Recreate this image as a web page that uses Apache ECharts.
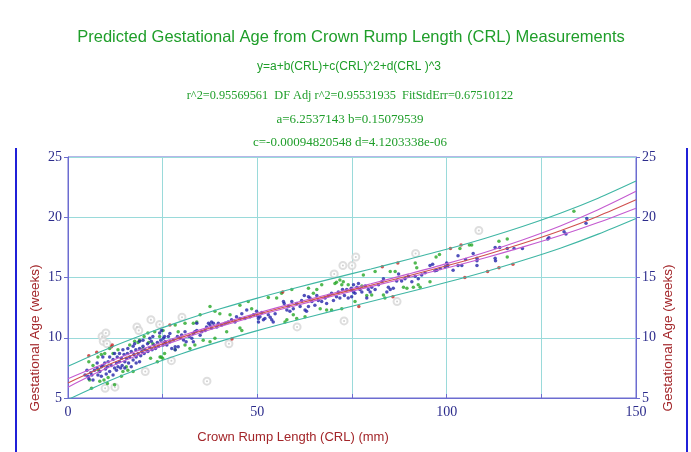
<!DOCTYPE html>
<html>
<head>
<meta charset="utf-8">
<script src="https://cdn.jsdelivr.net/npm/echarts@6/dist/echarts.min.js"></script>
<style>
  html, body { margin: 0; padding: 0; background: #fff; }
  #chart { width: 691px; height: 452px; }
</style>
</head>
<body>
<div id="chart"></div>
<script>
// fitted curves at CRL = 0, 10, ... 150
const curveCRL  = [0, 10, 20, 30, 40, 50, 60, 70, 80, 90, 100, 110, 120, 130, 140, 150];
const fitGA     = [6.25, 7.67, 8.92, 10.03, 11.03, 11.94, 12.78, 13.58, 14.36, 15.15, 15.97, 16.85, 17.82, 18.88, 20.09, 21.45];
const ciUpperGA = [6.6, 7.9, 9.1, 10.17, 11.15, 12.05, 12.9, 13.7, 14.48, 15.3, 16.15, 17.08, 18.12, 19.28, 20.62, 22.15];
const ciLowerGA = [5.9, 7.44, 8.74, 9.89, 10.91, 11.83, 12.66, 13.46, 14.24, 15.0, 15.79, 16.62, 17.52, 18.48, 19.56, 20.75];
const piUpperGA = [7.63, 9.03, 10.27, 11.38, 12.38, 13.29, 14.13, 14.93, 15.71, 16.51, 17.34, 18.24, 19.23, 20.33, 21.58, 23.0];
const piLowerGA = [4.87, 6.31, 7.57, 8.68, 9.68, 10.59, 11.43, 12.23, 13.01, 13.79, 14.6, 15.46, 16.41, 17.43, 18.6, 19.9];

// measurements [CRL mm, GA weeks]
const bluePoints = [
  [4.5,6.9],[5,7.3],[5.3,6.8],[5.5,6.6],[6.0,7.1],[6.3,6.9],[6.6,6.5],[7.0,7.3],[7.7,7.5],[7.7,7.9],[7.9,6.9],[8.4,7.2],
  [8.8,7.6],[8.8,6.8],[9.2,7.7],[9.2,8.4],[9.7,7.9],[9.9,7.4],[10.1,7.0],[10.4,7.6],[10.6,8.0],[11.0,7.2],[11.0,8.4],
  [11.4,7.7],[11.9,8.2],[11.9,6.9],[12.3,7.5],[12.3,8.7],[12.8,7.9],[12.8,7.3],[13.0,8.4],[13.2,7.6],[13.6,8.0],[13.6,8.7],
  [13.9,7.5],[14.1,8.3],[14.3,7.7],[14.5,9.0],[14.8,8.6],[15.0,8.0],[15.0,7.5],[15.4,8.3],[15.7,8.7],[15.8,9.1],[16.0,7.9],
  [16.3,8.4],[16.7,8.85],[16.7,7.6],[17.2,8.15],[17.2,9.3],[17.4,8.6],[17.6,9.5],[17.9,9.0],[18.0,8.4],[18.0,7.9],[18.5,8.7],
  [18.9,9.1],[18.9,8.0],[18.9,9.7],[19.2,8.5],[19.5,8.85],[19.8,9.3],[19.8,9.8],[20.1,8.7],[20.4,9.0],[21.0,9.5],[21.1,8.85],
  [21.6,9.2],[21.6,9.95],[22.0,9.7],[22.2,9.0],[22.4,10.1],[22.7,9.4],[23.1,9.1],[23.6,9.6],[23.9,9.3],[24.2,10.4],[24.5,9.8],
  [24.7,10.6],[25.1,9.4],[25.5,10.1],[25.7,9.6],
  [25.2,9.95],[25.6,9.67],[26.1,9.4],[26.5,10.1],[26.9,9.67],[26.9,10.36],[27.4,9.1],[27.8,9.81],[28.3,9.26],[28.3,9.0],
  [28.9,10.1],[29.1,9.26],[29.6,9.95],[30.0,10.23],[30.5,9.81],[30.9,10.5],[31.2,9.67],[32.0,10.1],[32.7,9.95],[33.1,10.36],
  [33.1,9.67],[33.5,10.5],[34.0,10.6],[34.0,11.2],[34.9,10.2],[35.3,10.5],[36.2,10.6],[36.6,10.9],[37.1,11.2],[37.5,11.05],
  [37.9,10.8],[37.9,11.3],[38.4,11.2],[39.3,10.9],[39.7,11.2],[40.6,11.05],[41.5,11.2],[42.3,11.3],[43.2,11.5],[44.1,11.3],
  [44.5,11.75],[45.4,11.6],[45.9,12.0],[46.7,11.6],[47.2,12.3],[48.1,11.75],[49.0,11.9],[49.8,12.2],[50.3,11.6],
  [50.1,11.8],[50.3,11.3],[50.7,11.75],[51.2,12.1],[51.6,11.5],[52.0,11.6],[52.9,11.9],[53.4,11.7],[53.8,11.5],[54.2,11.3],
  [54.7,12.0],[56.9,13.0],[57.1,12.85],[57.8,12.3],[58.2,12.6],[58.6,12.2],[59.1,13.0],[59.5,12.4],[60.4,12.85],[61.3,12.6],
  [61.7,13.1],[62.4,13.5],[62.6,12.3],[63.0,12.2],[63.5,12.6],[63.5,13.4],[63.9,13.3],[64.4,13.0],[65.2,12.7],[65.7,13.5],
  [66.1,13.1],[67.0,13.0],[67.9,13.3],[68.3,12.85],[68.8,13.5],[69.6,13.7],[70.1,13.1],[70.9,13.4],[71.4,13.8],[71.8,13.3],
  [72.5,14.0],[73.0,13.5],[73.6,14.0],[74.0,13.3],[74.8,14.1],[75.4,13.8],
  [74.9,14.0],[74.9,13.4],[75.4,14.4],[75.8,13.7],[76.3,14.2],[76.7,14.5],[77.1,14.0],[77.6,13.8],[78.5,14.3],[78.9,13.3],
  [79.3,14.0],[79.8,13.8],[80.2,14.2],[81.1,14.0],[82.0,14.4],[82.9,14.65],[83.3,14.9],[84.2,13.8],[84.6,14.2],[85.1,14.0],
  [85.9,14.1],[86.8,14.7],[87.3,15.3],[88.1,14.7],[89.0,14.9],[89.9,15.1],[90.8,14.65],[91.7,15.1],[92.5,14.9],[93.4,15.2],
  [94.3,15.4],[95.6,16.0],[96.3,16.1],[96.9,15.55],[97.4,15.6],[98.3,15.75],[99.6,15.9],[100.0,16.2],
  [100.3,16.0],[101.7,15.6],[103,16.0],[103,16.8],[104,16.0],[105,16.5],[107,17.0],[108,16.6],[108,16.4],[108,16.0],
  [112.8,17.5],[114,17.5],[112.8,16.6],[112.9,16.4],[116,17.4],[117.8,17.4],[120,17.4],[126.7,18.2],[127,18.3],
  [131,18.8],[131.5,18.6],[136.8,19.5],[137,19.9]
];
const greenPoints = [
  [5.5,8.0],[5.7,6.5],[6.2,5.8],[6.6,7.7],[7.9,8.4],[8.1,7.3],[8.4,6.4],[8.8,8.6],[9.5,6.5],[9.7,8.7],[10.4,6.2],[10.6,6.7],
  [11.0,9.1],[11.9,8.7],[12.3,6.1],[13.2,9.0],[14.1,6.8],[14.5,7.2],[15.4,7.6],[15.8,7.3],[16.3,9.4],[17.2,7.2],[17.6,9.7],
  [18.5,9.6],[18.9,9.8],[19.8,9.1],[20.1,10.1],[21.1,10.4],[21.3,9.6],[21.8,8.3],[22.4,9.5],[22.9,10.5],[23.6,8.0],[24.2,10.1],
  [24.6,8.4],[25.1,10.6],[25.5,8.7],
  [24.3,8.4],[25.0,8.3],[28.3,11.05],[28.3,9.0],[29.1,10.5],[30.9,11.2],[30.9,9.4],[32.2,9.1],[33.1,11.2],[33.5,9.4],
  [34.0,11.3],[34.9,11.9],[35.7,9.8],[37.5,12.6],[37.5,9.67],[38.8,12.2],[38.8,9.95],[40.1,12.0],[41.9,10.5],[42.8,11.9],
  [45.4,12.7],[45.4,10.8],[45.9,10.6],[47.6,13.0],[48.5,12.4],
  [52.9,13.35],[55.1,13.3],[56.4,13.7],[57.3,11.3],[57.8,11.5],[59.1,14.0],[59.5,11.9],[60.4,11.6],[62.6,11.75],[63.5,14.1],
  [64.8,13.7],[65.7,14.0],[66.6,12.4],[67.0,14.4],[68.3,12.3],[69.6,12.3],[70.5,14.5],[70.9,14.6],[71.8,14.8],[72.3,14.4],
  [72.3,12.4],[72.7,14.65],[74.0,14.4],
  [75.8,13.0],[77.6,14.3],[78.0,15.2],[78.9,13.5],[80.2,13.55],[81.1,15.5],[83.3,13.55],[83.7,13.3],[85.1,15.5],[86.4,15.5],
  [88.6,14.2],[89.5,14.1],[91.2,14.2],[91.7,16.2],[92.1,15.8],[92.5,14.4],[93.0,14.2],[95.6,14.65],[97.2,16.7],[98.1,16.9],
  [103.5,17.4],[106,17.7],[106.6,17.7],[113.8,18.0],[116,18.2],[116,16.7],[133.6,20.5]
];
const redPoints = [
  [5.5,8.5],[7.6,8.8],[11.5,9.25],[11.7,9.4],[26.9,11.05],[43.3,9.9],[56.7,13.8],[76.8,12.6],[83,15.9],[85.8,13.4],
  [87.1,16.2],[101,17.4],[103.8,17.7],[104.8,15.0],[110.8,15.5],[113.8,15.8],[117.5,16.1]
];
const outlierPoints = [
  [9.0,10.1],[9.3,9.7],[10.0,10.4],[10.3,9.5],[9.8,5.8],[12.4,5.9],[18.2,10.9],[18.7,10.6],[20.4,7.2],[21.9,11.5],
  [24.2,11.1],[27.3,8.1],[30.1,11.7],[36.7,6.4],[42.5,9.5],[60.5,10.9],[70.3,15.3],[72.6,16.0],[72.9,11.4],[75.0,16.0],
  [76.0,16.7],[86.9,13.0],[91.8,17.0],[108.5,18.9]
];

const xTicks = [0, 50, 100, 150];

const green = "#1f9e2a";
const darkRed = "#a3262a";
const axisBlue = "#6c6cd0";
const labelBlue = "#2c2c8c";
const gridTeal = "#9adada";

const chart = echarts.init(document.getElementById("chart"), null, { renderer: "canvas" });

const zip = (ys) => curveCRL.map((x, i) => [x, ys[i]]);
const curve = (ys, color, z) => ({
  type: "line", data: zip(ys), smooth: 0.3, showSymbol: false, symbol: "none",
  lineStyle: { color, width: 1.1 }, z, silent: true, animation: false,
});
const dots = (data, color, size) => ({
  type: "scatter", data, symbolSize: size, itemStyle: { color }, z: 3, animation: false,
});

const serifLabel = { color: labelBlue, fontFamily: "Liberation Serif", fontSize: 14 };

chart.setOption({
  animation: false,
  grid: { left: 68, right: 55, top: 157, bottom: 54, show: true, borderColor: axisBlue, borderWidth: 1 },
  xAxis: {
    type: "value", min: 0, max: 150, interval: 25,
    axisLine: { lineStyle: { color: axisBlue } },
    axisTick: { inside: true, length: 4, lineStyle: { color: axisBlue } },
    axisLabel: { ...serifLabel, margin: 7, formatter: (v) => (xTicks.includes(v) ? String(v) : "") },
    splitLine: { show: true, lineStyle: { color: gridTeal, width: 1 } },
  },
  yAxis: [
    {
      type: "value", min: 5, max: 25, interval: 5, position: "left",
      axisLine: { show: true, lineStyle: { color: axisBlue } },
      axisTick: { show: true, length: 4, lineStyle: { color: axisBlue } },
      axisLabel: { ...serifLabel, margin: 6 },
      splitLine: { show: true, lineStyle: { color: gridTeal, width: 1 } },
    },
    {
      type: "value", min: 5, max: 25, interval: 5, position: "right",
      axisLine: { show: true, lineStyle: { color: axisBlue } },
      axisTick: { show: true, length: 4, lineStyle: { color: axisBlue } },
      axisLabel: { ...serifLabel, margin: 6 },
      splitLine: { show: false },
    },
  ],
  series: [
    // outliers: faint grey ring + small centre dot
    { type: "scatter", data: outlierPoints, symbol: "emptyCircle", symbolSize: 7,
      itemStyle: { color: "#d6d6d6", borderColor: "#d6d6d6", borderWidth: 0.8 }, z: 2 },
    { type: "scatter", data: outlierPoints, symbolSize: 2, itemStyle: { color: "#c4c4c4" }, z: 2 },
    dots(greenPoints, "#27a827", 3.5),
    dots(bluePoints, "#2424aa", 3.5),
    dots(redPoints, "#c82828", 3.5),
    curve(piUpperGA, "#3fb6a4", 5),
    curve(piLowerGA, "#3fb6a4", 5),
    curve(ciUpperGA, "#c45ad0", 5),
    curve(ciLowerGA, "#c45ad0", 5),
    curve(fitGA, "#d0504e", 6),
  ],
  graphic: [
    { type: "text", x: 351, y: 37,
      style: { text: "Predicted Gestational Age from Crown Rump Length (CRL) Measurements",
        font: "16.5px 'Liberation Sans'", fill: green, align: "center", verticalAlign: "middle" } },
    { type: "text", x: 349, y: 67,
      style: { text: "y=a+b(CRL)+c(CRL)^2+d(CRL )^3", font: "12px 'Liberation Sans'", fill: green,
        align: "center", verticalAlign: "middle" } },
    { type: "text", x: 350, y: 96,
      style: { text: "r^2=0.95569561  DF Adj r^2=0.95531935  FitStdErr=0.67510122", font: "12.3px 'Liberation Serif'",
        fill: green, align: "center", verticalAlign: "middle" } },
    { type: "text", x: 350, y: 120,
      style: { text: "a=6.2537143 b=0.15079539", font: "13px 'Liberation Serif'", fill: green,
        align: "center", verticalAlign: "middle" } },
    { type: "text", x: 350, y: 143,
      style: { text: "c=-0.00094820548 d=4.1203338e-06", font: "13px 'Liberation Serif'", fill: green,
        align: "center", verticalAlign: "middle" } },
    // axis names
    { type: "text", x: 293, y: 437,
      style: { text: "Crown Rump Length (CRL) (mm)", font: "13px 'Liberation Sans'", fill: darkRed,
        align: "center", verticalAlign: "middle" } },
    { type: "text", x: 35, y: 338, rotation: Math.PI / 2,
      style: { text: "Gestational Age (weeks)", font: "13.5px 'Liberation Sans'", fill: darkRed,
        align: "center", verticalAlign: "middle" } },
    { type: "text", x: 668, y: 338, rotation: Math.PI / 2,
      style: { text: "Gestational Age (weeks)", font: "13.5px 'Liberation Sans'", fill: darkRed,
        align: "center", verticalAlign: "middle" } },
    // blue frame edges from the screenshot
    { type: "line", shape: { x1: 16, y1: 148, x2: 16, y2: 452 }, style: { stroke: "#2020d8", lineWidth: 2 } },
    { type: "line", shape: { x1: 687, y1: 148, x2: 687, y2: 452 }, style: { stroke: "#2020d8", lineWidth: 2 } },
  ],
});
</script>
</body>
</html>
